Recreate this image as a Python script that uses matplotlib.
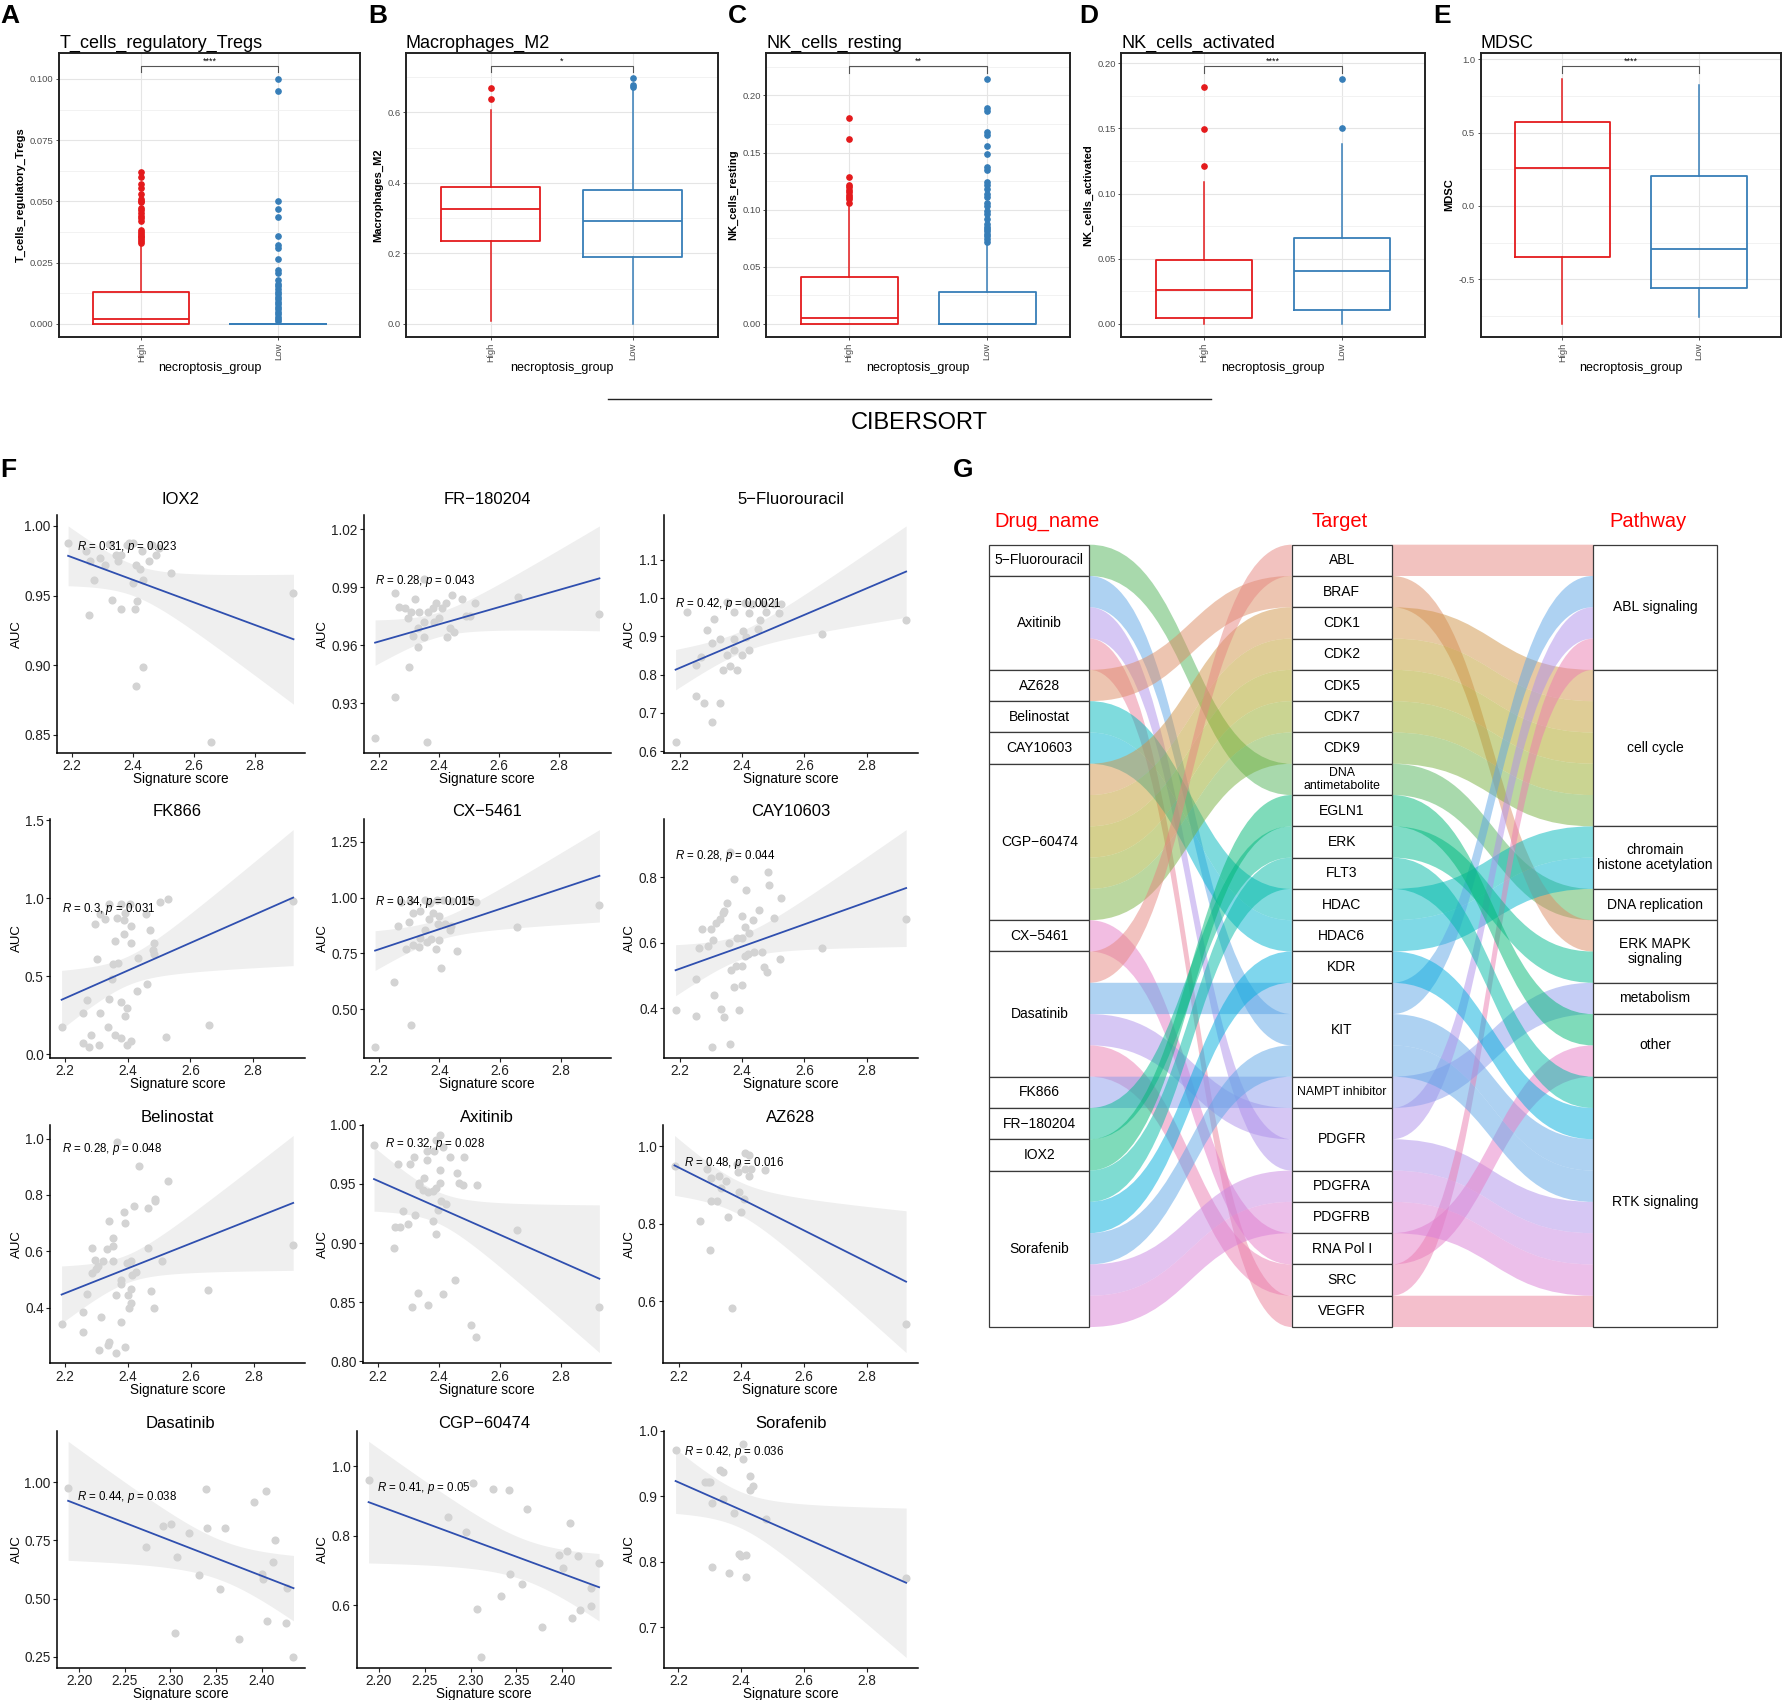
import numpy as np
import matplotlib
matplotlib.use('Agg')
import matplotlib.pyplot as plt
from matplotlib.patches import Rectangle, PathPatch
from matplotlib.path import Path
from matplotlib.ticker import AutoMinorLocator

ARIAL = ['Liberation Sans', 'DejaVu Sans']
plt.rcParams['font.family'] = ARIAL
plt.rcParams['mathtext.fontset'] = 'custom'
plt.rcParams['mathtext.rm'] = 'Liberation Sans'
plt.rcParams['mathtext.it'] = 'Liberation Sans:italic'

# ---------------- A-E : CIBERSORT boxplots (stats) ----------------
box_titles = ['T_cells_regulatory_Tregs', 'Macrophages_M2', 'NK_cells_resting',
              'NK_cells_activated', 'MDSC']
groups = ['High', 'Low']
sig_labels = ['****', '*', '**', '****', '****']

# [q1, median, q3, lower whisker, upper whisker]
tregs_high = [0.0, 0.002, 0.0129, 0.0, 0.032]
tregs_low = [0.0, 0.0, 0.0, 0.0, 0.0]
m2_high = [0.235, 0.326, 0.389, 0.007, 0.608]
m2_low = [0.191, 0.292, 0.381, 0.0, 0.662]
nkr_high = [0.0, 0.0053, 0.0412, 0.0, 0.102]
nkr_low = [0.0, 0.0, 0.0279, 0.0, 0.070]
nka_high = [0.0041, 0.0258, 0.049, 0.0, 0.109]
nka_low = [0.0108, 0.0403, 0.0658, 0.0, 0.138]
mdsc_high = [-0.350, 0.258, 0.572, -0.805, 0.869]
mdsc_low = [-0.560, -0.297, 0.203, -0.759, 0.823]

tregs_high_out = [0.0621, 0.0598, 0.0573, 0.0555, 0.0532, 0.0509, 0.0502, 0.0497, 0.0474,
                  0.0463, 0.0453, 0.0442, 0.0431, 0.0421, 0.0385, 0.0376, 0.0367, 0.0360,
                  0.0353, 0.0346, 0.0339, 0.0332]
tregs_low_out = [0.1001, 0.0951, 0.050, 0.0467, 0.0435, 0.0357, 0.0321, 0.0308, 0.0266,
                 0.0218, 0.0209, 0.0181, 0.0163, 0.0154, 0.0143, 0.013, 0.012, 0.011, 0.010,
                 0.009, 0.008, 0.007, 0.006, 0.005, 0.004, 0.003, 0.002, 0.001]
m2_high_out = [0.668, 0.638]
m2_low_out = [0.696, 0.677, 0.671]
nkr_high_out = [0.180, 0.162, 0.1285, 0.1218, 0.120, 0.1176, 0.1153, 0.113, 0.111, 0.109, 0.106]
nkr_low_out = [0.2144, 0.1888, 0.1865, 0.168, 0.165, 0.1556, 0.149, 0.137, 0.135, 0.124, 0.122,
               0.118, 0.114, 0.111, 0.106, 0.1035, 0.099, 0.096, 0.092, 0.087, 0.085, 0.083,
               0.081, 0.0785, 0.0765, 0.074, 0.072]
nka_high_out = [0.1817, 0.1497, 0.1208]
nka_low_out = [0.188, 0.150]
mdsc_high_out = []
mdsc_low_out = []

box_yticks = [[0, 0.025, 0.05, 0.075, 0.1], [0, 0.2, 0.4, 0.6], [0, 0.05, 0.1, 0.15, 0.2],
              [0, 0.05, 0.1, 0.15, 0.2], [-0.5, 0, 0.5, 1.0]]
box_ytick_labels = [['0.000', '0.025', '0.050', '0.075', '0.100'], ['0.0', '0.2', '0.4', '0.6'],
                    ['0.00', '0.05', '0.10', '0.15', '0.20'], ['0.00', '0.05', '0.10', '0.15', '0.20'],
                    ['-0.5', '0.0', '0.5', '1.0']]
box_ylim = [(-0.0052, 0.1104), (-0.036, 0.767), (-0.0112, 0.2368), (-0.0098, 0.2075), (-0.892, 1.041)]
sig_y = [(0.1027, 0.1054), (0.713, 0.732), (0.220, 0.226), (0.1928, 0.198), (0.909, 0.954)]

# ---------------- F : drug sensitivity scatter plots ----------------
drug_titles = ['IOX2', 'FR\u2212180204', '5\u2212Fluorouracil', 'FK866', 'CX\u22125461', 'CAY10603',
               'Belinostat', 'Axitinib', 'AZ628', 'Dasatinib', 'CGP\u221260474', 'Sorafenib']
r_labels = ['0.31', '0.28', '0.42', '0.3', '0.34', '0.28', '0.28', '0.32', '0.48', '0.44', '0.41', '0.42']
p_labels = ['0.023', '0.043', '0.0021', '0.031', '0.015', '0.044', '0.048', '0.028', '0.016',
            '0.038', '0.05', '0.036']

iox2_x = [2.188, 2.925, 2.248, 2.258, 2.274, 2.256, 2.331, 2.362, 2.308, 2.343, 2.380, 2.387, 2.399,
          2.409, 2.424, 2.401, 2.414, 2.407, 2.434, 2.434, 2.411, 2.451, 2.461, 2.476, 2.486, 2.525,
          2.656, 2.360, 2.322, 2.293, 2.428, 2.350]
iox2_y = [0.988, 0.952, 0.982, 0.975, 0.961, 0.936, 0.947, 0.940, 0.972, 0.979, 0.986, 0.988, 0.988,
          0.972, 0.969, 0.959, 0.946, 0.940, 0.961, 0.899, 0.885, 0.975, 0.986, 0.979, 0.984, 0.966,
          0.845, 0.979, 0.987, 0.977, 0.982, 0.975]
fr_x = [2.188, 2.359, 2.254, 2.301, 2.332, 2.313, 2.350, 2.428, 2.449, 2.437, 2.383, 2.399, 2.364,
        2.380, 2.409, 2.390, 2.425, 2.335, 2.308, 2.289, 2.269, 2.296, 2.321, 2.349, 2.254, 2.478,
        2.490, 2.504, 2.519, 2.445, 2.664, 2.934, 2.351, 2.331]
fr_y = [0.912, 0.910, 0.933, 0.949, 0.959, 0.965, 0.964, 0.964, 0.967, 0.969, 0.972, 0.974, 0.977,
        0.979, 0.979, 0.982, 0.982, 0.977, 0.977, 0.979, 0.980, 0.974, 0.984, 0.994, 0.987, 0.984,
        0.975, 0.975, 0.982, 0.986, 0.985, 0.976, 0.972, 0.969]
fu_x = [2.187, 2.304, 2.277, 2.328, 2.253, 2.253, 2.268, 2.287, 2.338, 2.360, 2.385, 2.351, 2.375,
        2.400, 2.423, 2.375, 2.328, 2.304, 2.309, 2.413, 2.404, 2.451, 2.457, 2.476, 2.517, 2.351,
        2.408, 2.432, 2.470, 2.502, 2.526, 2.375, 2.423, 2.655, 2.926, 2.225]
fu_y = [0.624, 0.677, 0.725, 0.725, 0.743, 0.825, 0.845, 0.917, 0.811, 0.822, 0.811, 0.851, 0.864,
        0.851, 0.864, 0.893, 0.893, 0.882, 0.946, 0.897, 0.914, 0.918, 0.942, 0.964, 0.960, 0.989,
        0.987, 0.983, 0.985, 0.985, 0.985, 0.964, 0.960, 0.906, 0.943, 0.964]
fk_x = [2.189, 2.256, 2.275, 2.284, 2.307, 2.256, 2.269, 2.313, 2.341, 2.336, 2.360, 2.379, 2.398,
        2.412, 2.392, 2.398, 2.379, 2.431, 2.463, 2.523, 2.660, 2.928, 2.350, 2.353, 2.368, 2.303,
        2.360, 2.388, 2.410, 2.432, 2.480, 2.485, 2.472, 2.365, 2.388, 2.410, 2.392, 2.407, 2.457,
        2.341, 2.313, 2.294, 2.326, 2.504, 2.528, 2.379, 2.485]
fk_y = [0.179, 0.071, 0.050, 0.125, 0.060, 0.265, 0.347, 0.265, 0.352, 0.179, 0.125, 0.103, 0.060,
        0.088, 0.248, 0.298, 0.337, 0.406, 0.449, 0.110, 0.186, 0.982, 0.486, 0.578, 0.583, 0.611,
        0.723, 0.773, 0.714, 0.617, 0.669, 0.712, 0.794, 0.874, 0.859, 0.820, 0.906, 0.961, 0.902,
        0.961, 0.902, 0.833, 0.865, 0.978, 0.993, 0.961, 0.643]
cx_x = [2.188, 2.306, 2.252, 2.407, 2.390, 2.459, 2.291, 2.332, 2.312, 2.336, 2.360, 2.372, 2.399,
        2.351, 2.434, 2.440, 2.264, 2.299, 2.395, 2.419, 2.366, 2.399, 2.380, 2.312, 2.337, 2.370,
        2.274, 2.303, 2.351, 2.393, 2.413, 2.483, 2.506, 2.521, 2.657, 2.928, 2.442]
cx_y = [0.332, 0.429, 0.621, 0.685, 0.770, 0.762, 0.770, 0.780, 0.788, 0.821, 0.802, 0.816, 0.809,
        0.853, 0.853, 0.874, 0.874, 0.889, 0.882, 0.882, 0.903, 0.918, 0.932, 0.932, 0.939, 0.975,
        0.980, 0.986, 0.990, 0.990, 0.990, 0.990, 0.986, 0.980, 0.870, 0.965, 0.983]
cay_x = [2.187, 2.253, 2.304, 2.360, 2.334, 2.341, 2.389, 2.309, 2.253, 2.375, 2.400, 2.262, 2.291,
         2.272, 2.300, 2.306, 2.317, 2.328, 2.338, 2.351, 2.342, 2.357, 2.366, 2.381, 2.400, 2.375,
         2.360, 2.385, 2.400, 2.408, 2.419, 2.408, 2.413, 2.423, 2.436, 2.438, 2.464, 2.455, 2.470,
         2.479, 2.483, 2.485, 2.504, 2.521, 2.526, 2.655, 2.926, 2.400]
cay_y = [0.394, 0.377, 0.283, 0.290, 0.399, 0.374, 0.394, 0.440, 0.490, 0.465, 0.472, 0.583, 0.591,
         0.641, 0.641, 0.608, 0.661, 0.671, 0.691, 0.722, 0.696, 0.598, 0.518, 0.528, 0.528, 0.795,
         0.877, 0.613, 0.681, 0.558, 0.566, 0.648, 0.760, 0.629, 0.668, 0.571, 0.571, 0.698, 0.526,
         0.511, 0.815, 0.775, 0.676, 0.551, 0.735, 0.584, 0.671, 0.613]
bel_x = [2.189, 2.256, 2.256, 2.269, 2.313, 2.307, 2.336, 2.341, 2.362, 2.390, 2.379, 2.362, 2.401,
         2.410, 2.403, 2.379, 2.379, 2.409, 2.398, 2.410, 2.426, 2.414, 2.484, 2.473, 2.510, 2.463,
         2.354, 2.306, 2.296, 2.285, 2.300, 2.322, 2.285, 2.332, 2.351, 2.341, 2.391, 2.388, 2.418,
         2.463, 2.485, 2.485, 2.528, 2.436, 2.365, 2.656, 2.926, 2.351]
bel_y = [0.341, 0.314, 0.385, 0.449, 0.367, 0.250, 0.267, 0.276, 0.240, 0.261, 0.347, 0.443, 0.443,
         0.416, 0.399, 0.484, 0.499, 0.466, 0.557, 0.566, 0.525, 0.516, 0.400, 0.458, 0.566, 0.613,
         0.566, 0.549, 0.569, 0.523, 0.537, 0.566, 0.613, 0.607, 0.646, 0.709, 0.699, 0.740, 0.760,
         0.754, 0.780, 0.787, 0.851, 0.903, 0.988, 0.461, 0.623, 0.619]
axi_x = [2.188, 2.268, 2.306, 2.318, 2.361, 2.351, 2.334, 2.335, 2.347, 2.366, 2.380, 2.390, 2.403,
         2.405, 2.409, 2.399, 2.424, 2.380, 2.392, 2.283, 2.300, 2.256, 2.273, 2.322, 2.252, 2.332,
         2.312, 2.364, 2.413, 2.454, 2.504, 2.521, 2.465, 2.478, 2.525, 2.459, 2.438, 2.483, 2.390,
         2.405, 2.386, 2.413, 2.361, 2.655, 2.926]
axi_y = [0.983, 0.967, 0.967, 0.973, 0.970, 0.955, 0.951, 0.949, 0.945, 0.943, 0.944, 0.947, 0.951,
         0.962, 0.936, 0.928, 0.933, 0.919, 0.908, 0.927, 0.916, 0.914, 0.914, 0.924, 0.896, 0.858,
         0.846, 0.848, 0.857, 0.869, 0.831, 0.821, 0.951, 0.949, 0.949, 0.959, 0.973, 0.973, 0.987,
         0.991, 0.978, 0.981, 0.978, 0.911, 0.846]
az_x = [2.187, 2.268, 2.300, 2.304, 2.323, 2.304, 2.328, 2.351, 2.357, 2.334, 2.372, 2.394, 2.400,
        2.408, 2.391, 2.413, 2.413, 2.426, 2.432, 2.426, 2.475, 2.291, 2.926, 2.385]
az_y = [0.949, 0.807, 0.733, 0.859, 0.859, 0.919, 0.923, 0.910, 0.818, 0.891, 0.582, 0.882, 0.830,
        0.863, 0.933, 0.940, 0.983, 0.976, 0.940, 0.923, 0.938, 0.940, 0.540, 0.953]
das_x = [2.188, 2.273, 2.292, 2.301, 2.307, 2.305, 2.321, 2.331, 2.339, 2.340, 2.354, 2.360, 2.375,
         2.392, 2.400, 2.402, 2.405, 2.406, 2.413, 2.415, 2.427, 2.428, 2.435]
das_y = [0.976, 0.721, 0.814, 0.819, 0.679, 0.350, 0.781, 0.603, 0.971, 0.804, 0.543, 0.804, 0.324,
         0.914, 0.607, 0.583, 0.964, 0.404, 0.657, 0.750, 0.396, 0.547, 0.247]
cgp_x = [2.189, 2.275, 2.295, 2.303, 2.307, 2.311, 2.325, 2.333, 2.342, 2.343, 2.356, 2.362, 2.378,
         2.396, 2.401, 2.405, 2.408, 2.410, 2.417, 2.419, 2.431, 2.431, 2.440]
cgp_y = [0.962, 0.855, 0.811, 0.952, 0.590, 0.450, 0.936, 0.628, 0.933, 0.689, 0.660, 0.878, 0.538,
         0.746, 0.708, 0.757, 0.838, 0.562, 0.743, 0.586, 0.650, 0.598, 0.723]
sor_x = [2.191, 2.284, 2.302, 2.293, 2.306, 2.308, 2.333, 2.343, 2.341, 2.361, 2.376, 2.393, 2.401,
         2.406, 2.406, 2.416, 2.416, 2.429, 2.429, 2.438, 2.479, 2.926]
sor_y = [0.971, 0.921, 0.921, 0.921, 0.890, 0.792, 0.939, 0.937, 0.895, 0.782, 0.874, 0.812, 0.808,
         0.957, 0.980, 0.810, 0.776, 0.930, 0.909, 0.915, 0.865, 0.775]

sc_yticks = [[0.85, 0.90, 0.95, 1.00], [0.93, 0.96, 0.99, 1.02], [0.6, 0.7, 0.8, 0.9, 1.0, 1.1],
             [0.0, 0.5, 1.0, 1.5], [0.50, 0.75, 1.00, 1.25], [0.4, 0.6, 0.8],
             [0.4, 0.6, 0.8, 1.0], [0.80, 0.85, 0.90, 0.95, 1.00], [0.6, 0.8, 1.0],
             [0.25, 0.50, 0.75, 1.00], [0.6, 0.8, 1.0], [0.7, 0.8, 0.9, 1.0]]
sc_ydec = [2, 2, 1, 1, 2, 1, 1, 2, 1, 2, 1, 1]
xticks_wide = [2.2, 2.4, 2.6, 2.8]
xticks_narrow = [2.20, 2.25, 2.30, 2.35, 2.40]

# ---------------- G : drug - target - pathway alluvial ----------------
drug_order = ['5\u2212Fluorouracil', 'Axitinib', 'AZ628', 'Belinostat', 'CAY10603', 'CGP\u221260474',
              'CX\u22125461', 'Dasatinib', 'FK866', 'FR\u2212180204', 'IOX2', 'Sorafenib']
target_order = ['ABL', 'BRAF', 'CDK1', 'CDK2', 'CDK5', 'CDK7', 'CDK9', 'DNA\nantimetabolite', 'EGLN1',
                'ERK', 'FLT3', 'HDAC', 'HDAC6', 'KDR', 'KIT', 'NAMPT inhibitor', 'PDGFR', 'PDGFRA',
                'PDGFRB', 'RNA Pol I', 'SRC', 'VEGFR']
pathway_order = ['ABL signaling', 'cell cycle', 'chromain\nhistone acetylation', 'DNA replication',
                 'ERK MAPK\nsignaling', 'metabolism', 'other', 'RTK signaling']

link_drug = ['5\u2212Fluorouracil', 'Axitinib', 'Axitinib', 'Axitinib', 'AZ628', 'Belinostat', 'CAY10603',
             'CGP\u221260474', 'CGP\u221260474', 'CGP\u221260474', 'CGP\u221260474', 'CGP\u221260474',
             'CX\u22125461', 'Dasatinib', 'Dasatinib', 'Dasatinib', 'Dasatinib', 'FK866',
             'FR\u2212180204', 'IOX2', 'Sorafenib', 'Sorafenib', 'Sorafenib', 'Sorafenib', 'Sorafenib']
link_target = ['DNA\nantimetabolite', 'KIT', 'PDGFR', 'VEGFR', 'BRAF', 'HDAC', 'HDAC6', 'CDK1', 'CDK2',
               'CDK5', 'CDK7', 'CDK9', 'RNA Pol I', 'ABL', 'KIT', 'PDGFR', 'SRC', 'NAMPT inhibitor',
               'ERK', 'EGLN1', 'FLT3', 'KDR', 'KIT', 'PDGFRA', 'PDGFRB']
link_pathway = ['DNA replication', 'RTK signaling', 'RTK signaling', 'RTK signaling', 'ERK MAPK\nsignaling',
                'chromain\nhistone acetylation', 'chromain\nhistone acetylation', 'cell cycle', 'cell cycle',
                'cell cycle', 'cell cycle', 'cell cycle', 'other', 'ABL signaling', 'ABL signaling',
                'ABL signaling', 'ABL signaling', 'metabolism', 'ERK MAPK\nsignaling', 'other',
                'RTK signaling', 'RTK signaling', 'RTK signaling', 'RTK signaling', 'RTK signaling']

RED = '#E41A1C'
BLUE = '#377EB8'

# figure coordinates are given in the pixel grid of the reference (1568 x 1495)
W, H = 1568.0, 1495.0


def rect(x0, y0, x1, y1):
    return [x0 / W, 1 - y1 / H, (x1 - x0) / W, (y1 - y0) / H]


def hcl(h, c=70.0, l=66.0):
    # polar Luv -> sRGB, like ggplot's hue scale
    hr = np.deg2rad(h)
    u, v = c * np.cos(hr), c * np.sin(hr)
    xn, yn, zn = 95.047, 100.0, 108.883
    un = 4 * xn / (xn + 15 * yn + 3 * zn)
    vn = 9 * yn / (xn + 15 * yn + 3 * zn)
    Y = yn * ((l + 16) / 116) ** 3
    up = u / (13 * l) + un
    vp = v / (13 * l) + vn
    X = Y * 9 * up / (4 * vp)
    Z = Y * (12 - 3 * up - 20 * vp) / (4 * vp)
    X, Y, Z = X / 100, Y / 100, Z / 100
    rgb = [3.2404542 * X - 1.5371385 * Y - 0.4985314 * Z,
           -0.9692660 * X + 1.8760108 * Y + 0.0415560 * Z,
           0.0556434 * X - 0.2040259 * Y + 1.0572252 * Z]
    out = []
    for t in rgb:
        t = min(max(t, 0.0), 1.0)
        t = 12.92 * t if t <= 0.0031308 else 1.055 * t ** (1 / 2.4) - 0.055
        out.append(min(max(t, 0.0), 1.0))
    return tuple(out)


fig = plt.figure(figsize=(17.83, 17.0), dpi=100)

# ---------------- boxplots ----------------
box_left = [52, 357, 674, 986, 1302]
box_right = [317, 631, 941, 1253, 1566]
letters_top = ['A', 'B', 'C', 'D', 'E']
letter_x = [0, 324, 640, 949, 1260]
box_stats = [(tregs_high, tregs_low, tregs_high_out, tregs_low_out),
             (m2_high, m2_low, m2_high_out, m2_low_out),
             (nkr_high, nkr_low, nkr_high_out, nkr_low_out),
             (nka_high, nka_low, nka_high_out, nka_low_out),
             (mdsc_high, mdsc_low, mdsc_high_out, mdsc_low_out)]

for k in range(5):
    ax = fig.add_axes(rect(box_left[k], 47, box_right[k], 296))
    hi, lo, hi_out, lo_out = box_stats[k]
    for pos, st, out, col in [(1, hi, hi_out, RED), (2, lo, lo_out, BLUE)]:
        d = dict(q1=st[0], med=st[1], q3=st[2], whislo=st[3], whishi=st[4], fliers=out)
        ax.bxp([d], positions=[pos], widths=0.7, showcaps=False,
               boxprops=dict(color=col, lw=1.3), medianprops=dict(color=col, lw=1.3),
               whiskerprops=dict(color=col, lw=1.1),
               flierprops=dict(marker='o', markerfacecolor=col, markeredgecolor=col, markersize=3.8))
    ax.set_xlim(0.4, 2.6)
    ax.set_ylim(*box_ylim[k])
    ax.set_yticks(box_yticks[k])
    ax.set_yticklabels(box_ytick_labels[k])
    ax.yaxis.set_minor_locator(AutoMinorLocator(2))
    ax.set_xticks([1, 2])
    ax.set_xticklabels(groups, rotation=90)
    ax.grid(True, which='major', color='#E5E5E5', lw=0.8)
    ax.grid(True, which='minor', axis='y', color='#F0F0F0', lw=0.6)
    ax.set_axisbelow(True)
    ax.tick_params(axis='both', which='major', labelsize=6.8, length=2.5, width=0.6,
                   colors='#333333', labelcolor='#4D4D4D', pad=1.5)
    ax.tick_params(axis='y', which='minor', length=0)
    for s in ax.spines.values():
        s.set_linewidth(1.4)
        s.set_color('#222222')
    ax.set_ylabel(box_titles[k], fontsize=8, fontweight='bold', labelpad=3)
    ax.set_xlabel('necroptosis_group', fontsize=9, labelpad=0)
    ax.set_title(box_titles[k], loc='left', fontsize=13, pad=4)
    y0, y1 = sig_y[k]
    ax.plot([1, 1, 2, 2], [y0, y1, y1, y0], color='#555555', lw=0.8)
    ax.text(1.5, y1, sig_labels[k], ha='center', va='bottom', fontsize=6.5)
    fig.text(letter_x[k] / W, 1 - 14 / H, letters_top[k], fontsize=19, fontweight='bold',
             va='center', ha='left')

fig.add_artist(plt.Line2D([535 / W, 1065 / W], [1 - 351 / H, 1 - 351 / H], color='#222222', lw=1.0))
fig.text(808 / W, 1 - 372 / H, 'CIBERSORT', fontsize=17, ha='center', va='center')

# ---------------- scatter plots ----------------
fig.text(0, 1 - 413 / H, 'F', fontsize=19, fontweight='bold', va='center', ha='left')
sc_data = [(iox2_x, iox2_y), (fr_x, fr_y), (fu_x, fu_y), (fk_x, fk_y), (cx_x, cx_y), (cay_x, cay_y),
           (bel_x, bel_y), (axi_x, axi_y), (az_x, az_y), (das_x, das_y), (cgp_x, cgp_y), (sor_x, sor_y)]
sc_top = [453, 720, 989, 1258]
sc_bottom = [662, 930, 1199, 1467]
sc_left = [[50, 320, 584], [44, 320, 584], [44, 319, 583], [50, 314, 584]]
sc_right = [268, 537, 807]
auc_x = [14.5, 284, 554]
title_dy = [14, 6, 6, 6]
lab_pos = [(0.083, 0.864), (0.045, 0.724), (0.042, 0.625), (0.046, 0.622), (0.045, 0.65),
           (0.042, 0.846), (0.046, 0.896), (0.088, 0.919), (0.081, 0.838), (0.083, 0.72),
           (0.079, 0.758), (0.077, 0.909)]

for k in range(12):
    r, c = divmod(k, 3)
    x0, x1 = sc_left[r][c], sc_right[c]
    ax = fig.add_axes(rect(x0, sc_top[r], x1, sc_bottom[r]))
    x = np.array(sc_data[k][0])
    y = np.array(sc_data[k][1])
    n = len(x)
    b1, b0 = np.polyfit(x, y, 1)
    xs = np.linspace(x.min(), x.max(), 100)
    fit = b0 + b1 * xs
    resid = y - (b0 + b1 * x)
    s = np.sqrt(np.sum(resid ** 2) / (n - 2))
    sxx = np.sum((x - x.mean()) ** 2)
    tq = 1.96 + 2.37 / (n - 2)
    se = s * np.sqrt(1.0 / n + (xs - x.mean()) ** 2 / sxx)
    ax.fill_between(xs, fit - tq * se, fit + tq * se, color='#EFEFEF', lw=0, zorder=1)
    ax.scatter(x, y, s=34, color='#D3D3D3', lw=0, zorder=2)
    ax.plot(xs, fit, color='#2F4FAF', lw=1.3, zorder=3)
    ax.set_yticks(sc_yticks[k])
    ax.set_yticklabels([f'{v:.{sc_ydec[k]}f}' for v in sc_yticks[k]])
    if k in (9, 10):
        ax.set_xticks(xticks_narrow)
        ax.set_xticklabels([f'{v:.2f}' for v in xticks_narrow])
    else:
        ax.set_xticks(xticks_wide)
        ax.set_xticklabels([f'{v:.1f}' for v in xticks_wide])
    for side in ('top', 'right'):
        ax.spines[side].set_visible(False)
    for side in ('left', 'bottom'):
        ax.spines[side].set_linewidth(1.1)
    ax.tick_params(labelsize=9.8, length=3, width=0.8, pad=1.5, colors='#222222')
    hpx = sc_bottom[r] - sc_top[r]
    ax.text(0.5, 1 + title_dy[r] / hpx, drug_titles[k], transform=ax.transAxes, ha='center',
            va='center', fontsize=12)
    ax.text(0.5, -23 / hpx, 'Signature score', transform=ax.transAxes, ha='center', va='center',
            fontsize=9.8)
    lx, ly = lab_pos[k]
    ax.text(lx, ly, r'$\it{R}$ = ' + r_labels[k] + r', $\it{p}$ = ' + p_labels[k],
            transform=ax.transAxes, ha='left', va='center', fontsize=8.3)
    fig.text(auc_x[c] / W, 1 - (sc_top[r] + sc_bottom[r]) / 2 / H, 'AUC', rotation=90, ha='center',
             va='center', fontsize=9.5)

# ---------------- alluvial ----------------
fig.text(838 / W, 1 - 413 / H, 'G', fontsize=19, fontweight='bold', va='center', ha='left')
axg = fig.add_axes(rect(860, 440, 1530, 1180))
axg.set_xlim(860, 1530)
axg.set_ylim(1180, 440)
axg.axis('off')

col_x = [(870, 958), (1136, 1224), (1401, 1510)]
head_x = [921, 1178, 1449]
top_y, bot_y = 479, 1167
nrow = len(link_drug)
unit = (bot_y - top_y) / nrow

d_idx = [drug_order.index(v) for v in link_drug]
t_idx = [target_order.index(v) for v in link_target]
p_idx = [pathway_order.index(v) for v in link_pathway]


def stack(primary, keys):
    order = sorted(range(nrow), key=lambda i: (primary[i],) + tuple(kk[i] for kk in keys))
    pos = [0] * nrow
    for rank, i in enumerate(order):
        pos[i] = rank
    return pos


drug_pos = stack(d_idx, [t_idx, p_idx])
target_pos = stack(t_idx, [p_idx, d_idx])
path_pos = stack(p_idx, [t_idx, d_idx])

tcols = [hcl(15 + 360.0 / len(target_order) * i) for i in range(len(target_order))]


def flow(xa, xb, ya, yb, color):
    xm = (xa + xb) / 2
    y0a, y1a = top_y + ya * unit, top_y + (ya + 1) * unit
    y0b, y1b = top_y + yb * unit, top_y + (yb + 1) * unit
    verts = [(xa, y0a), (xm, y0a), (xm, y0b), (xb, y0b),
             (xb, y1b), (xm, y1b), (xm, y1a), (xa, y1a), (xa, y0a)]
    codes = [Path.MOVETO, Path.CURVE4, Path.CURVE4, Path.CURVE4,
             Path.LINETO, Path.CURVE4, Path.CURVE4, Path.CURVE4, Path.CLOSEPOLY]
    axg.add_patch(PathPatch(Path(verts, codes), fc=color, ec='none', alpha=0.5, zorder=1))


for i in range(nrow):
    colr = tcols[t_idx[i]]
    flow(col_x[0][1], col_x[1][0], drug_pos[i], target_pos[i], colr)
    flow(col_x[1][1], col_x[2][0], target_pos[i], path_pos[i], colr)

for j, (names, idx) in enumerate([(drug_order, d_idx), (target_order, t_idx), (pathway_order, p_idx)]):
    start = 0
    xa, xb = col_x[j]
    for s_i, name in enumerate(names):
        cnt = idx.count(s_i)
        ya = top_y + start * unit
        axg.add_patch(Rectangle((xa, ya), xb - xa, cnt * unit, fc='white', ec='#3A3A3A', lw=0.9, zorder=2))
        fs = 8.8 if name in ('DNA\nantimetabolite', 'NAMPT inhibitor') else 10
        axg.text((xa + xb) / 2, ya + cnt * unit / 2, name, ha='center', va='center', fontsize=fs,
                 linespacing=1.15, zorder=3)
        start += cnt
    axg.text(head_x[j], 459, ['Drug_name', 'Target', 'Pathway'][j], color='red', fontsize=14.5,
             ha='center', va='center')

fig.savefig('out.png', dpi=100)
